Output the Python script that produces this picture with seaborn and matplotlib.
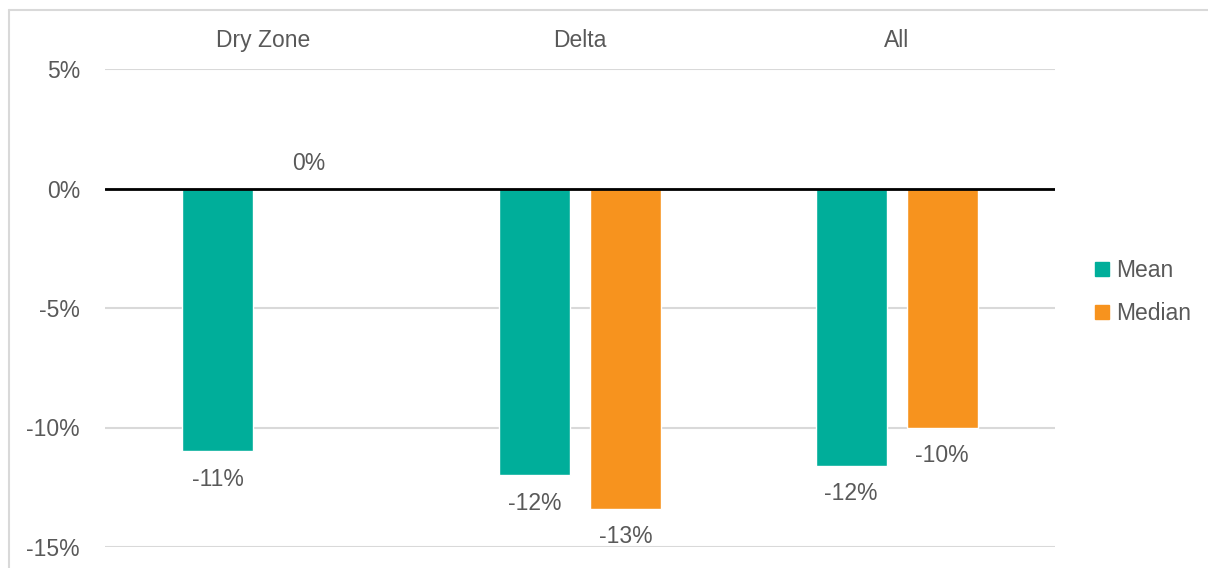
import matplotlib
matplotlib.use("Agg")
import matplotlib.pyplot as plt
import seaborn as sns
import pandas as pd
from matplotlib.lines import Line2D
from matplotlib.ticker import FuncFormatter

categories = ["Dry Zone", "Delta", "All"]
series_names = ["Mean", "Median"]
mean_vals = [-11.0, -12.0, -11.6]
median_vals = [0.0, -13.4, -10.0]
mean_labels = ["-11%", "-12%", "-12%"]
median_labels = ["0%", "-13%", "-10%"]
y_ticks = [5, 0, -5, -10, -15]

colors = {"Mean": "#00AE9A", "Median": "#F7931E"}
text_color = "#595959"
fs = 16.5

df = pd.DataFrame({
    "cat": categories * 2,
    "series": ["Mean"] * 3 + ["Median"] * 3,
    "val": mean_vals + median_vals,
})

sns.set_style("white")
plt.rcParams["font.family"] = ["Liberation Sans", "DejaVu Sans"]

fig = plt.figure(figsize=(12.08, 5.68), dpi=100)
ax = fig.add_axes([105 / 1208, 21 / 568, 950 / 1208, 478 / 568])

sns.barplot(data=df, x="cat", y="val", hue="series", order=categories,
            hue_order=series_names, palette=colors, width=0.575, gap=0.22,
            ax=ax, legend=False, saturation=1)

ax.set_ylim(-15, 5)
ax.set_yticks(y_ticks)
ax.yaxis.set_major_formatter(FuncFormatter(lambda v, p: f"{int(v)}%"))
ax.grid(axis="y", color="#D9D9D9", linewidth=1.5)
ax.set_axisbelow(True)
ax.axhline(0, color="black", linewidth=2, zorder=3)
for s in ax.spines.values():
    s.set_visible(False)
ax.set_xlabel("")
ax.set_ylabel("")
ax.xaxis.tick_top()
ax.tick_params(axis="x", length=0, pad=12, labelsize=fs, labelcolor=text_color)
ax.tick_params(axis="y", length=0, pad=18, labelsize=fs, labelcolor=text_color)

label_sets = [mean_labels, median_labels]
for cont, labs in zip(ax.containers, label_sets):
    for bar, lab in zip(cont, labs):
        h = bar.get_height()
        x = bar.get_x() + bar.get_width() / 2
        if h < 0:
            ax.annotate(lab, (x, h), xytext=(0, -12), textcoords="offset points",
                        ha="center", va="top", fontsize=fs, color=text_color)
        else:
            ax.annotate(lab, (x, h), xytext=(0, 10), textcoords="offset points",
                        ha="center", va="bottom", fontsize=fs, color=text_color)

handles = [Line2D([], [], marker="s", linestyle="", markersize=10,
                  markerfacecolor=colors[n], markeredgecolor=colors[n]) for n in series_names]
fig.legend(handles, series_names, loc="center left", bbox_to_anchor=(1070 / 1208, 1 - 292 / 568),
           frameon=False, fontsize=fs, labelcolor=text_color, handletextpad=0.1,
           labelspacing=0.85, handlelength=1.0)

fig.add_artist(Line2D([9 / 1208, 9 / 1208], [0, 1 - 10 / 568], color="#D9D9D9", linewidth=1.5))
fig.add_artist(Line2D([9 / 1208, 1], [1 - 10 / 568, 1 - 10 / 568], color="#D9D9D9", linewidth=1.5))

fig.savefig("out.png", dpi=100)
